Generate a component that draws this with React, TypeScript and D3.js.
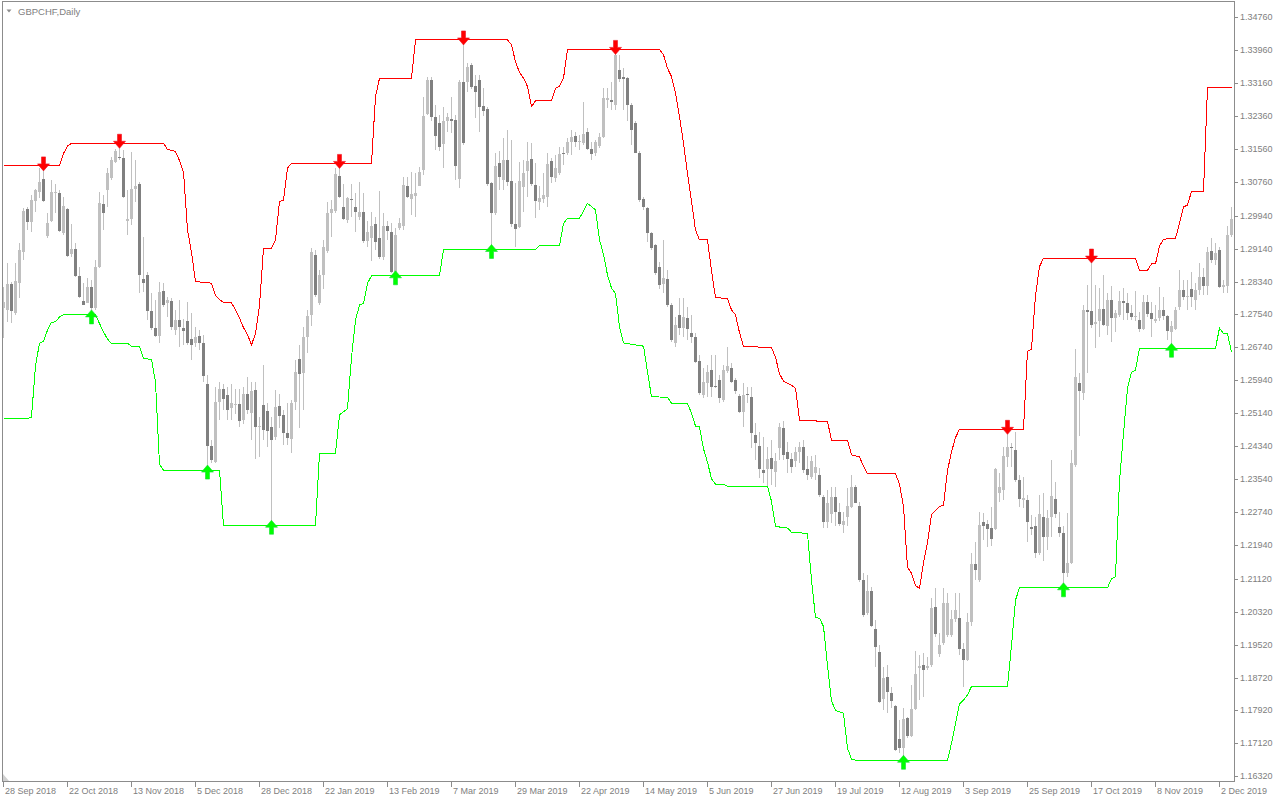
import React from 'react';
import * as d3 from 'd3';

const symbolTitle = 'GBPCHF,Daily';

const open = [
  1.2769,1.2765,1.2828,1.2757,1.2830,1.2906,1.3010,1.2979,1.3029,1.3052,
  1.3083,1.2944,1.2982,1.3048,1.3050,1.2953,1.3010,1.2902,1.2912,1.2848,
  1.2786,1.2783,1.2821,1.2770,1.2870,1.3022,1.3056,1.3085,1.3125,1.3137,
  1.3133,1.2982,1.2985,1.3060,1.3071,1.2840,1.2850,1.2762,1.2720,1.2702,
  1.2811,1.2781,1.2787,1.2716,1.2740,1.2720,1.2738,1.2694,1.2684,1.2702,
  1.2684,1.2586,1.2434,1.2396,1.2542,1.2572,1.2558,1.2526,1.2534,1.2536,
  1.2497,1.2562,1.2514,1.2571,1.2480,1.2534,1.2520,1.2481,1.2457,1.2532,
  1.2510,1.2465,1.2451,1.2542,1.2647,1.2613,1.2699,1.2753,1.2899,1.2781,
  1.2850,1.2909,1.3000,1.3006,1.3090,1.3016,1.2984,1.3034,1.3016,1.2992,
  1.3002,1.2933,1.2941,1.2973,1.2941,1.2893,1.2969,1.2955,1.2858,1.2963,
  1.2970,1.3065,1.3034,1.3043,1.3067,1.3105,1.3241,1.3324,1.3233,1.3220,
  1.3168,1.3223,1.3229,1.3227,1.3082,1.3320,1.3320,1.3360,1.3309,1.3324,
  1.3261,1.3253,1.3073,1.3000,1.3121,1.3081,1.3129,1.3078,1.2974,1.2967,
  1.3063,1.3103,1.3132,1.3069,1.3028,1.3035,1.3040,1.3128,1.3085,1.3097,
  1.3146,1.3146,1.3172,1.3188,1.3172,1.3170,1.3198,1.3155,1.3147,1.3163,
  1.3186,1.3275,1.3275,1.3263,1.3348,1.3330,1.3328,1.3263,1.3218,1.3146,
  1.3034,1.3012,1.2951,1.2923,1.2869,1.2827,1.2840,1.2777,1.2684,1.2753,
  1.2720,1.2746,1.2710,1.2700,1.2642,1.2559,1.2587,1.2619,1.2581,1.2595,
  1.2546,1.2617,1.2623,1.2595,1.2556,1.2518,1.2561,1.2554,1.2461,1.2435,
  1.2375,1.2378,1.2405,1.2372,1.2429,1.2477,1.2421,1.2403,1.2399,1.2421,
  1.2431,1.2379,1.2358,1.2370,1.2364,1.2311,1.2251,1.2269,1.2311,1.2273,
  1.2243,1.2261,1.2287,1.2336,1.2289,1.2109,1.2028,1.2081,1.1991,1.1935,
  1.1821,1.1874,1.1834,1.1803,1.1722,1.1700,1.1773,1.1730,1.1795,1.1895,
  1.1903,1.1895,1.1903,1.2043,1.1929,1.1955,1.1975,1.1975,1.2013,1.2016,
  1.1941,1.1915,1.2006,1.2148,1.2109,1.2251,1.2245,1.2235,1.2232,1.2320,
  1.2328,1.2407,1.2433,1.2425,1.2352,1.2303,1.2303,1.2237,1.2240,1.2174,
  1.2261,1.2214,1.2261,1.2305,1.2237,1.2222,1.2127,1.2151,1.2388,1.2588,
  1.2563,1.2765,1.2763,1.2730,1.2737,1.2768,1.2727,1.2789,1.2745,1.2753,
  1.2787,1.2781,1.2757,1.2747,1.2741,1.2719,1.2784,1.2757,1.2738,1.2745,
  1.2765,1.2751,1.2712,1.2719,1.2772,1.2814,1.2796,1.2816,1.2789,1.2814,
  1.2846,1.2823,1.2908,1.2887,1.2911,1.2820,1.2823,1.2947,
];

const high = [
  1.2821,1.2878,1.2834,1.2880,1.2927,1.3012,1.3016,1.3044,1.3060,1.3109,
  1.3112,1.3000,1.3081,1.3072,1.3056,1.3040,1.3012,1.2975,1.2927,1.2870,
  1.2830,1.2842,1.2838,1.2886,1.3052,1.3044,1.3109,1.3137,1.3157,1.3168,
  1.3153,1.3056,1.3149,1.3129,1.3076,1.2943,1.2858,1.2805,1.2789,1.2834,
  1.2830,1.2797,1.2793,1.2765,1.2789,1.2744,1.2785,1.2757,1.2724,1.2716,
  1.2704,1.2607,1.2449,1.2578,1.2590,1.2586,1.2578,1.2586,1.2574,1.2574,
  1.2578,1.2602,1.2591,1.2591,1.2506,1.2631,1.2538,1.2506,1.2571,1.2562,
  1.2522,1.2538,1.2546,1.2643,1.2680,1.2724,1.2765,1.2915,1.2911,1.2862,
  1.2935,1.3028,1.3032,1.3109,1.3118,1.3071,1.3040,1.3071,1.3048,1.3077,
  1.3048,1.2980,1.3004,1.2992,1.3054,1.3000,1.2980,1.2977,1.2963,1.2988,
  1.3089,1.3089,1.3101,1.3097,1.3113,1.3283,1.3332,1.3330,1.3263,1.3239,
  1.3259,1.3243,1.3283,1.3239,1.3324,1.3418,1.3364,1.3364,1.3336,1.3336,
  1.3304,1.3259,1.3077,1.3146,1.3150,1.3182,1.3202,1.3178,1.3073,1.3125,
  1.3129,1.3174,1.3170,1.3121,1.3065,1.3097,1.3146,1.3133,1.3142,1.3162,
  1.3162,1.3182,1.3202,1.3198,1.3190,1.3271,1.3206,1.3174,1.3178,1.3194,
  1.3304,1.3304,1.3320,1.3396,1.3385,1.3352,1.3332,1.3267,1.3223,1.3150,
  1.3040,1.3016,1.2955,1.2925,1.2882,1.2935,1.2862,1.2781,1.2749,1.2793,
  1.2793,1.2773,1.2753,1.2708,1.2656,1.2623,1.2631,1.2656,1.2656,1.2607,
  1.2631,1.2676,1.2635,1.2599,1.2562,1.2587,1.2579,1.2579,1.2490,1.2469,
  1.2457,1.2433,1.2449,1.2417,1.2490,1.2496,1.2445,1.2417,1.2433,1.2445,
  1.2449,1.2409,1.2410,1.2413,1.2380,1.2315,1.2328,1.2336,1.2336,1.2295,
  1.2275,1.2332,1.2364,1.2340,1.2299,1.2125,1.2121,1.2093,1.2012,1.1951,
  1.1898,1.1902,1.1850,1.1805,1.1769,1.1797,1.1777,1.1854,1.1937,1.1927,
  1.1931,1.1923,1.2064,1.2089,1.1979,1.2089,1.2077,1.2036,1.2077,1.2077,
  1.1955,1.2028,1.2174,1.2202,1.2275,1.2271,1.2255,1.2287,1.2380,1.2368,
  1.2433,1.2473,1.2441,1.2469,1.2364,1.2360,1.2315,1.2267,1.2263,1.2316,
  1.2320,1.2279,1.2401,1.2348,1.2275,1.2239,1.2271,1.2425,1.2670,1.2613,
  1.2777,1.2826,1.2889,1.2826,1.2818,1.2850,1.2806,1.2822,1.2765,1.2810,
  1.2818,1.2806,1.2777,1.2810,1.2761,1.2802,1.2802,1.2785,1.2777,1.2820,
  1.2797,1.2753,1.2737,1.2773,1.2862,1.2838,1.2838,1.2858,1.2830,1.2878,
  1.2866,1.2919,1.2939,1.2927,1.2919,1.2838,1.2968,1.3015,
];

const low = [
  1.2696,1.2736,1.2734,1.2753,1.2793,1.2886,1.2959,1.2955,1.3004,1.3036,
  1.3028,1.2939,1.2979,1.3000,1.2955,1.2947,1.2894,1.2894,1.2846,1.2793,
  1.2777,1.2781,1.2756,1.2766,1.2866,1.2959,1.3016,1.3081,1.3121,1.3129,
  1.3036,1.2947,1.2971,1.3028,1.2805,1.2809,1.2740,1.2716,1.2700,1.2684,
  1.2773,1.2749,1.2716,1.2704,1.2676,1.2680,1.2680,1.2643,1.2676,1.2667,
  1.2590,1.2380,1.2392,1.2392,1.2497,1.2522,1.2497,1.2497,1.2513,1.2481,
  1.2489,1.2513,1.2449,1.2404,1.2408,1.2449,1.2433,1.2245,1.2449,1.2477,
  1.2437,1.2437,1.2417,1.2522,1.2477,1.2522,1.2660,1.2726,1.2797,1.2777,
  1.2817,1.2903,1.2943,1.3000,1.3036,1.2984,1.2976,1.2992,1.2955,1.2984,
  1.2927,1.2919,1.2885,1.2911,1.2890,1.2886,1.2935,1.2854,1.2850,1.2959,
  1.2959,1.3036,1.2996,1.2992,1.3065,1.3093,1.3239,1.3223,1.3154,1.3150,
  1.3109,1.3198,1.3194,1.3081,1.3061,1.3166,1.3295,1.3301,1.3231,1.3198,
  1.3237,1.3065,1.2915,1.2996,1.3057,1.3057,1.3065,1.2967,1.2919,1.2963,
  1.3004,1.3040,1.3065,1.2988,1.3008,1.3024,1.3016,1.3073,1.3077,1.3093,
  1.3117,1.3142,1.3142,1.3162,1.3154,1.3166,1.3154,1.3129,1.3138,1.3158,
  1.3182,1.3255,1.3251,1.3251,1.3320,1.3251,1.3223,1.3166,1.3146,1.3028,
  1.3008,1.2931,1.2911,1.2850,1.2817,1.2805,1.2773,1.2688,1.2676,1.2704,
  1.2700,1.2692,1.2684,1.2635,1.2558,1.2550,1.2554,1.2554,1.2575,1.2538,
  1.2542,1.2611,1.2587,1.2562,1.2514,1.2481,1.2538,1.2429,1.2400,1.2356,
  1.2344,1.2336,1.2340,1.2336,1.2400,1.2400,1.2368,1.2368,1.2383,1.2392,
  1.2368,1.2352,1.2354,1.2352,1.2311,1.2235,1.2235,1.2247,1.2239,1.2239,
  1.2222,1.2239,1.2283,1.2295,1.2105,1.2020,1.2024,1.1995,1.1898,1.1809,
  1.1793,1.1785,1.1797,1.1694,1.1688,1.1673,1.1724,1.1728,1.1793,1.1817,
  1.1825,1.1890,1.1898,1.1971,1.1923,1.1951,1.1971,1.1971,1.2008,1.1927,
  1.1850,1.1911,1.1996,1.2109,1.2105,1.2206,1.2190,1.2192,1.2230,1.2299,
  1.2303,1.2384,1.2384,1.2348,1.2287,1.2283,1.2202,1.2218,1.2162,1.2170,
  1.2154,1.2182,1.2214,1.2259,1.2214,1.2092,1.2117,1.2149,1.2384,1.2459,
  1.2546,1.2611,1.2721,1.2672,1.2700,1.2725,1.2704,1.2688,1.2712,1.2749,
  1.2741,1.2741,1.2741,1.2737,1.2712,1.2716,1.2749,1.2700,1.2733,1.2737,
  1.2741,1.2692,1.2674,1.2716,1.2765,1.2789,1.2765,1.2773,1.2765,1.2801,
  1.2801,1.2801,1.2878,1.2874,1.2818,1.2806,1.2806,1.2943,
];

const close = [
  1.2785,1.2828,1.2762,1.2836,1.2911,1.3005,1.2979,1.3032,1.3056,1.3076,
  1.3029,1.2977,1.3052,1.3052,1.2957,1.3017,1.2897,1.2913,1.2848,1.2797,
  1.2778,1.2821,1.2770,1.2870,1.3025,1.3001,1.3098,1.3129,1.3152,1.3133,
  1.3040,1.2985,1.3060,1.3066,1.2850,1.2830,1.2762,1.2720,1.2701,1.2809,
  1.2777,1.2789,1.2724,1.2740,1.2724,1.2714,1.2684,1.2681,1.2700,1.2684,
  1.2604,1.2435,1.2400,1.2542,1.2572,1.2548,1.2522,1.2539,1.2536,1.2496,
  1.2562,1.2522,1.2568,1.2481,1.2483,1.2473,1.2472,1.2449,1.2530,1.2507,
  1.2467,1.2455,1.2538,1.2615,1.2609,1.2700,1.2750,1.2905,1.2801,1.2850,
  1.2917,1.3000,1.3010,1.3095,1.3040,1.2986,1.3036,1.3031,1.3004,1.3002,
  1.2933,1.2954,1.2969,1.2931,1.2894,1.2969,1.2958,1.2856,1.2947,1.2977,
  1.3069,1.3040,1.3047,1.3048,1.3101,1.3236,1.3324,1.3233,1.3188,1.3160,
  1.3224,1.3233,1.3225,1.3115,1.3320,1.3170,1.3356,1.3306,1.3295,1.3259,
  1.3249,1.3071,1.3000,1.3115,1.3087,1.3129,1.3077,1.2973,1.2961,1.3078,
  1.3097,1.3128,1.3070,1.3030,1.3036,1.3044,1.3120,1.3087,1.3109,1.3144,
  1.3144,1.3174,1.3186,1.3174,1.3176,1.3193,1.3155,1.3144,1.3172,1.3184,
  1.3279,1.3279,1.3271,1.3385,1.3325,1.3325,1.3263,1.3201,1.3147,1.3032,
  1.3014,1.2951,1.2916,1.2854,1.2826,1.2843,1.2777,1.2692,1.2728,1.2720,
  1.2747,1.2718,1.2700,1.2639,1.2564,1.2591,1.2615,1.2579,1.2577,1.2550,
  1.2619,1.2629,1.2591,1.2569,1.2518,1.2558,1.2558,1.2465,1.2441,1.2378,
  1.2370,1.2402,1.2378,1.2397,1.2481,1.2413,1.2402,1.2384,1.2421,1.2433,
  1.2376,1.2364,1.2397,1.2384,1.2315,1.2251,1.2295,1.2311,1.2273,1.2245,
  1.2253,1.2289,1.2336,1.2297,1.2109,1.2024,1.2083,1.1996,1.1945,1.1813,
  1.1872,1.1838,1.1816,1.1696,1.1700,1.1770,1.1730,1.1795,1.1880,1.1901,
  1.1890,1.1901,1.2042,1.1978,1.1951,1.2052,1.2054,1.2013,1.2036,1.1941,
  1.1915,1.2006,1.2148,1.2132,1.2243,1.2239,1.2232,1.2208,1.2378,1.2334,
  1.2409,1.2433,1.2429,1.2352,1.2305,1.2307,1.2251,1.2234,1.2175,1.2269,
  1.2213,1.2259,1.2313,1.2269,1.2222,1.2127,1.2151,1.2394,1.2601,1.2567,
  1.2765,1.2759,1.2729,1.2736,1.2768,1.2729,1.2789,1.2745,1.2757,1.2787,
  1.2781,1.2757,1.2749,1.2751,1.2719,1.2784,1.2755,1.2743,1.2742,1.2765,
  1.2751,1.2715,1.2725,1.2765,1.2814,1.2796,1.2800,1.2797,1.2814,1.2846,
  1.2823,1.2907,1.2887,1.2904,1.2820,1.2826,1.2947,1.2985,
];

// channel lines: [bar index, price]
const upperBand: [number, number][] = [
  [0,1.3115],[14,1.3115],[15,1.3145],[16,1.3163],[17,1.3170],[40,1.3170],[41,1.3155],[43,1.3150],
  [44,1.3128],[45,1.3100],[46,1.2960],[47,1.2905],[48,1.2834],[52,1.2830],[53,1.2800],[54,1.2790],
  [55,1.2783],[57,1.2782],[58,1.2765],[59,1.2745],[60,1.2722],[61,1.2705],[62,1.2680],[63,1.2708],
  [64,1.2775],[65,1.2915],[67,1.2915],[68,1.2935],[69,1.3028],[70,1.3032],[71,1.3110],[72,1.3121],
  [92,1.3121],[93,1.3283],[94,1.3328],[102,1.3328],[103,1.3421],[126,1.3421],[127,1.3409],[128,1.3368],
  [129,1.3342],[130,1.3328],[131,1.3308],[132,1.3259],[133,1.3273],[137,1.3273],[138,1.3304],[139,1.3308],
  [140,1.3328],[141,1.3398],[164,1.3398],[165,1.3385],[166,1.3352],[167,1.3332],[168,1.3291],[169,1.3235],
  [170,1.3170],[171,1.3097],[172,1.3030],[173,1.2959],[174,1.2935],[176,1.2935],[177,1.2860],[178,1.2795],
  [181,1.2793],[182,1.2765],[183,1.2753],[184,1.2710],[185,1.2676],[192,1.2674],[193,1.2650],[194,1.2610],
  [195,1.2592],[197,1.2582],[198,1.2575],[199,1.2497],[206,1.2494],[207,1.2449],[211,1.2449],[212,1.2413],
  [214,1.2408],[215,1.2385],[216,1.2367],[223,1.2367],[224,1.2342],[225,1.2287],[226,1.2140],[227,1.2125],
  [228,1.2095],[229,1.2089],[230,1.2150],[231,1.2200],[232,1.2268],[234,1.2287],[235,1.2291],[236,1.2375],
  [237,1.2420],[238,1.2455],[239,1.2475],[255,1.2475],[256,1.2665],[257,1.2670],[258,1.2800],[259,1.2870],
  [260,1.2891],[283,1.2891],[284,1.2861],[286,1.2861],[287,1.2877],[288,1.2877],[289,1.2920],[290,1.2937],
  [293,1.2939],[294,1.2975],[295,1.3015],[296,1.3020],[297,1.3053],[300,1.3053],[301,1.3306],[307,1.3306],
];

const lowerBand: [number, number][] = [
  [0,1.2501],[6,1.2501],[7,1.2505],[8,1.2630],[9,1.2684],[10,1.2689],[11,1.2716],[12,1.2735],
  [13,1.2736],[14,1.2748],[15,1.2753],[23,1.2753],[24,1.2732],[25,1.2712],[26,1.2694],[27,1.2684],
  [31,1.2684],[32,1.2677],[34,1.2676],[35,1.2647],[37,1.2645],[38,1.2590],[39,1.2390],[40,1.2376],
  [54,1.2376],[55,1.2242],[78,1.2242],[79,1.2416],[83,1.2417],[84,1.2510],[86,1.2525],[87,1.2650],
  [88,1.2740],[89,1.2777],[90,1.2781],[91,1.2830],[92,1.2848],[109,1.2848],[110,1.2912],[133,1.2912],
  [134,1.2921],[139,1.2921],[140,1.2975],[141,1.2988],[144,1.2988],[145,1.3005],[146,1.3024],[147,1.3016],
  [148,1.3008],[149,1.2935],[150,1.2900],[151,1.2850],[152,1.2818],[153,1.2805],[154,1.2724],[155,1.2685],
  [160,1.2677],[161,1.2615],[162,1.2554],[166,1.2553],[167,1.2538],[171,1.2538],[172,1.2514],[173,1.2483],
  [174,1.2481],[175,1.2428],[176,1.2395],[177,1.2355],[178,1.2342],[180,1.2342],[181,1.2337],[191,1.2336],
  [192,1.2300],[193,1.2239],[196,1.2235],[197,1.2225],[201,1.2222],[202,1.2109],[203,1.2018],[204,1.2016],
  [205,1.1996],[206,1.1900],[207,1.1815],[208,1.1792],[210,1.1785],[211,1.1700],[212,1.1674],[213,1.1671],
  [236,1.1671],[237,1.1712],[238,1.1760],[239,1.1808],[240,1.1817],[241,1.1830],[242,1.1850],[251,1.1850],
  [252,1.1950],[253,1.2060],[254,1.2090],[276,1.2090],[277,1.2112],[278,1.2117],[279,1.2350],[280,1.2465],
  [281,1.2575],[282,1.2613],[283,1.2619],[284,1.2672],[303,1.2672],[304,1.2721],[305,1.2708],[306,1.2708],
  [307,1.2662],
];

const sellArrowBars = [10, 29, 84, 115, 153, 251, 272];
const sellArrowPrices = [1.3115, 1.3170, 1.3121, 1.3421, 1.3398, 1.2475, 1.2891];
const buyArrowBars = [22, 51, 67, 98, 122, 225, 265, 292];
const buyArrowPrices = [1.2753, 1.2376, 1.2242, 1.2848, 1.2912, 1.1671, 1.2090, 1.2672];

const priceTicks = [
  1.3476, 1.3396, 1.3316, 1.3236, 1.3156, 1.3076, 1.2994, 1.2914, 1.2834, 1.2754, 1.2674, 1.2594,
  1.2514, 1.2434, 1.2354, 1.2274, 1.2194, 1.2112, 1.2032, 1.1952, 1.1872, 1.1792, 1.1712, 1.1632,
];

const dateLabels = [
  '28 Sep 2018', '22 Oct 2018', '13 Nov 2018', '5 Dec 2018', '28 Dec 2018', '22 Jan 2019',
  '13 Feb 2019', '7 Mar 2019', '29 Mar 2019', '22 Apr 2019', '14 May 2019', '5 Jun 2019',
  '27 Jun 2019', '19 Jul 2019', '12 Aug 2019', '3 Sep 2019', '25 Sep 2019', '17 Oct 2019',
  '8 Nov 2019', '2 Dec 2019',
];
const barsPerDateLabel = 16;

const BULL = '#c0c0c0';
const BEAR = '#808080';
const WICK = '#c0c0c0';
const AXIS_TEXT = '#808080';
const FRAME = '#8c8c8c';
const FONT = '"Liberation Sans", Arial, sans-serif';

export default function App() {
  const W = 1280;
  const H = 800;
  const frameLeft = 2;
  const frameRight = 1234;
  const frameTop = 1;
  const frameBottom = 781;

  const n = open.length;
  const x = d3.scaleLinear().domain([0, n - 1]).range([3, 3 + 4 * (n - 1)]);
  const y = d3.scaleLinear().domain([1.1632, 1.3476]).range([776.3, 17.3]);

  const line = d3
    .line<[number, number]>()
    .x((d) => Math.round(x(d[0])) + 0.5)
    .y((d) => y(d[1]));

  const wicks: React.ReactNode[] = [];
  const bodies: React.ReactNode[] = [];
  for (let i = 0; i < n; i++) {
    const cx = Math.round(x(i));
    const o = open[i], c = close[i], h = high[i], l = low[i];
    const yH = Math.round(y(h));
    const yL = Math.round(y(l));
    wicks.push(
      <rect key={'w' + i} x={cx} y={yH} width={1} height={Math.max(1, yL - yH)} fill={WICK} />
    );
    const top = Math.round(y(Math.max(o, c)));
    const bot = Math.round(y(Math.min(o, c)));
    bodies.push(
      <rect
        key={'b' + i}
        x={cx - 1}
        y={top}
        width={3}
        height={Math.max(1, bot - top)}
        fill={c >= o ? BULL : BEAR}
      />
    );
  }

  const downArrow = (cx: number, tip: number) =>
    `M${cx - 2},${tip - 14} L${cx + 2},${tip - 14} L${cx + 2},${tip - 7} L${cx + 6},${tip - 7} L${cx},${tip} L${cx - 6},${tip - 7} L${cx - 2},${tip - 7} Z`;
  const upArrow = (cx: number, tip: number) =>
    `M${cx - 2},${tip + 14} L${cx + 2},${tip + 14} L${cx + 2},${tip + 7} L${cx + 6},${tip + 7} L${cx},${tip} L${cx - 6},${tip + 7} L${cx - 2},${tip + 7} Z`;

  return (
    <svg
      width={W}
      height={H}
      viewBox={`0 0 ${W} ${H}`}
      style={{ position: 'absolute', left: 0, top: 0, background: '#ffffff', display: 'block' }}
    >
      <rect x={0} y={0} width={W} height={H} fill="#ffffff" />

      <g shapeRendering="crispEdges">
        {wicks}
        {bodies}
      </g>

      <path d={line(upperBand) || ''} fill="none" stroke="#ff0000" strokeWidth={1} shapeRendering="crispEdges" />
      <path d={line(lowerBand) || ''} fill="none" stroke="#00ff00" strokeWidth={1} shapeRendering="crispEdges" />

      {sellArrowBars.map((b, k) => (
        <path
          key={'s' + k}
          d={downArrow(Math.round(x(b)) + 0.5, y(sellArrowPrices[k]) + 5)}
          fill="#ff0000"
          stroke="#ee1020"
          strokeWidth={0.6}
        />
      ))}
      {buyArrowBars.map((b, k) => (
        <path
          key={'g' + k}
          d={upArrow(Math.round(x(b)) + 0.5, y(buyArrowPrices[k]) - 5)}
          fill="#00ff00"
          stroke="#10e030"
          strokeWidth={0.6}
        />
      ))}

      {/* frame */}
      <g shapeRendering="crispEdges" stroke={FRAME} strokeWidth={1}>
        <line x1={frameLeft + 0.5} y1={frameTop} x2={frameLeft + 0.5} y2={frameBottom + 1} />
        <line x1={frameRight + 0.5} y1={frameTop} x2={frameRight + 0.5} y2={frameBottom + 1} />
        <line x1={frameLeft} y1={frameTop + 0.5} x2={frameRight + 1} y2={frameTop + 0.5} />
        <line x1={frameLeft} y1={frameBottom + 0.5} x2={frameRight + 1} y2={frameBottom + 0.5} />
      </g>

      {/* title */}
      <polygon points="6.5,9.5 11.5,9.5 9,12.5" fill="#8c8c8c" />
      <text x={18} y={14.5} fontFamily={FONT} fontSize={9.5} fill={AXIS_TEXT}>
        {symbolTitle}
      </text>

      {/* corner marker */}
      <polygon points="3,774 3,781 9,781" fill="#d0d0d0" />

      {/* price axis */}
      {priceTicks.map((p, k) => {
        const ty = Math.round(y(p));
        return (
          <g key={'pt' + k}>
            <line x1={frameRight + 1} x2={frameRight + 4} y1={ty + 0.5} y2={ty + 0.5} stroke={FRAME} shapeRendering="crispEdges" />
            <text x={1240} y={ty} dy="0.35em" fontFamily={FONT} fontSize={9} fill={AXIS_TEXT}>
              {p.toFixed(5)}
            </text>
          </g>
        );
      })}

      {/* date axis */}
      {dateLabels.map((lab, k) => {
        const tx = Math.round(x(k * barsPerDateLabel));
        return (
          <g key={'dt' + k}>
            <line x1={tx + 0.5} x2={tx + 0.5} y1={frameBottom + 1} y2={frameBottom + 6} stroke={FRAME} shapeRendering="crispEdges" />
            <text x={tx + 2} y={794} fontFamily={FONT} fontSize={9} fill={AXIS_TEXT}>
              {lab}
            </text>
          </g>
        );
      })}
    </svg>
  );
}
